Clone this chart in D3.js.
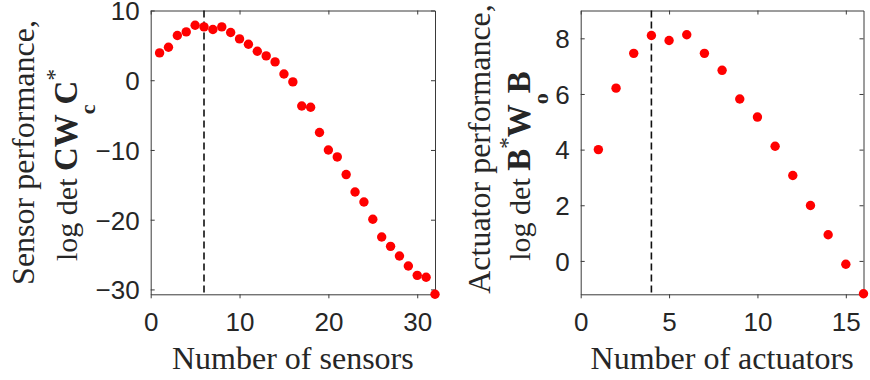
<!DOCTYPE html>
<html><head><meta charset="utf-8">
<script src="https://cdn.jsdelivr.net/npm/d3@7"></script>
<style>body{margin:0;background:#fff}</style></head>
<body><svg id="c" width="870" height="380"></svg>
<script>
// ---- data ----
const sensorCounts = [1,2,3,4,5,6,7,8,9,10,11,12,13,14,15,16,17,18,19,20,21,22,23,24,25,26,27,28,29,30,31,32];
const sensorPerf = [3.92,4.73,6.41,6.93,7.89,7.65,7.27,7.65,6.84,5.93,5.16,4.16,3.49,2.63,0.90,-0.24,
  -3.69,-3.87,-7.50,-10.0,-11.0,-13.53,-16.03,-17.46,-19.94,-22.48,-23.82,-25.21,-26.64,-27.98,-28.26,-30.70];
const sensorOptimal = 6;
const sensorXTicks = [0,10,20,30];
const sensorYTicks = [-30,-20,-10,0,10];

const actuatorCounts = [1,2,3,4,5,6,7,8,9,10,11,12,13,14,15,16];
const actuatorPerf = [4.0,6.21,7.46,8.1,7.92,8.13,7.46,6.85,5.82,5.17,4.12,3.07,1.99,0.94,-0.12,-1.18];
const actuatorOptimal = 4;
const actuatorXTicks = [0,5,10,15];
const actuatorYTicks = [0,2,4,6,8];

const svg = d3.select("#c");
const axisColor = "#3a3a3a";
const tickFont = "'Liberation Sans', Arial, sans-serif";
const serif = "'Liberation Serif', 'Times New Roman', serif";

function panel(o) {
  const x = d3.scaleLinear().domain(o.xDomain).range([o.left, o.right]);
  const y = d3.scaleLinear().domain(o.yDomain).range([o.bottom, o.top]);
  const g = svg.append("g");
  const tl = 4;
  const ax = [
    [d3.axisBottom(x).tickValues(o.xTicks).tickSize(tl), `translate(0,${o.bottom})`],
    [d3.axisTop(x).tickValues(o.xTicks).tickSize(-tl).tickFormat(""), `translate(0,${o.top})`],
    [d3.axisLeft(y).tickValues(o.yTicks).tickSize(-tl), `translate(${o.left},0)`],
    [d3.axisRight(y).tickValues(o.yTicks).tickSize(-tl).tickFormat(""), `translate(${o.right},0)`]
  ];
  ax.forEach(([a, t], i) => {
    const gg = g.append("g").attr("transform", t).call(a.tickSizeOuter(0));
    gg.select(".domain").attr("stroke", axisColor).attr("stroke-width", 1);
    gg.selectAll(".tick line").attr("stroke", axisColor).attr("stroke-width", 1);
    gg.selectAll(".tick text").attr("fill", "#262626").style("font-family", tickFont).style("font-size", "26px");
    if (i === 0) gg.selectAll(".tick text").attr("y", 0).attr("dy", "1.4em");
    if (i === 2) gg.selectAll(".tick text").attr("x", -11).attr("dy", "0.36em");
  });
  g.append("line")
    .attr("x1", x(o.optimal)).attr("x2", x(o.optimal))
    .attr("y1", o.top).attr("y2", o.bottom)
    .attr("stroke", "#111").attr("stroke-width", 1.6).attr("stroke-dasharray", "7,4");
  g.selectAll("circle").data(o.xs.map((d, i) => [d, o.ys[i]])).join("circle")
    .attr("cx", d => x(d[0])).attr("cy", d => y(d[1])).attr("r", 4.7).attr("fill", "#ff0000");
  g.append("text").attr("x", (o.left + o.right) / 2).attr("y", 369)
    .attr("text-anchor", "middle").style("font-family", serif).style("font-size", "32px")
    .attr("fill", "#262626").text(o.xLabel);
  g.append("text").attr("transform", `translate(${o.l1x},${o.l1y}) rotate(-90)`)
    .attr("text-anchor", "middle").style("font-family", serif).style("font-size", "32px")
    .attr("fill", "#262626").text(o.yLabel1);
  const t2 = g.append("text").attr("transform", `translate(${o.l2x},${o.l2y}) rotate(-90)`)
    .attr("text-anchor", "middle").style("font-family", serif).style("font-size", "30px").attr("fill", "#262626");
  o.yLabel2.forEach(p => {
    const s = t2.append("tspan").text(p.t)
      .style("font-size", p.size + "px").style("font-weight", p.bold ? "bold" : "normal");
    if (p.dy) s.attr("dy", p.dy);
  });
}

panel({
  xs: sensorCounts, ys: sensorPerf, optimal: sensorOptimal,
  xDomain: [0, 32], yDomain: [-30.7, 10], xTicks: sensorXTicks, yTicks: sensorYTicks,
  left: 150.7, right: 435, top: 10.5, bottom: 294.3,
  xLabel: "Number of sensors", yLabel1: "Sensor performance,",
  l1x: 34, l1y: 152.5, l2x: 77, l2y: 165,
  yLabel2: [
    {t: "log det ", size: 30},
    {t: "CW", size: 33, bold: true},
    {t: "c", size: 22, bold: true, dy: 18},
    {t: "C", size: 33, bold: true, dy: -18},
    {t: "*", size: 23, dy: -15}
  ]
});

panel({
  xs: actuatorCounts, ys: actuatorPerf, optimal: actuatorOptimal,
  xDomain: [0, 16], yDomain: [-1.2, 9], xTicks: actuatorXTicks, yTicks: actuatorYTicks,
  left: 580.7, right: 863.5, top: 10.5, bottom: 294.3,
  xLabel: "Number of actuators", yLabel1: "Actuator performance,",
  l1x: 490, l1y: 149, l2x: 530, l2y: 166,
  yLabel2: [
    {t: "log det ", size: 30},
    {t: "B", size: 33, bold: true},
    {t: "*", size: 23, dy: -15},
    {t: "W", size: 33, bold: true, dy: 15},
    {t: "o", size: 22, bold: true, dy: 18},
    {t: "B", size: 33, bold: true, dy: -18}
  ]
});
</script></body></html>
